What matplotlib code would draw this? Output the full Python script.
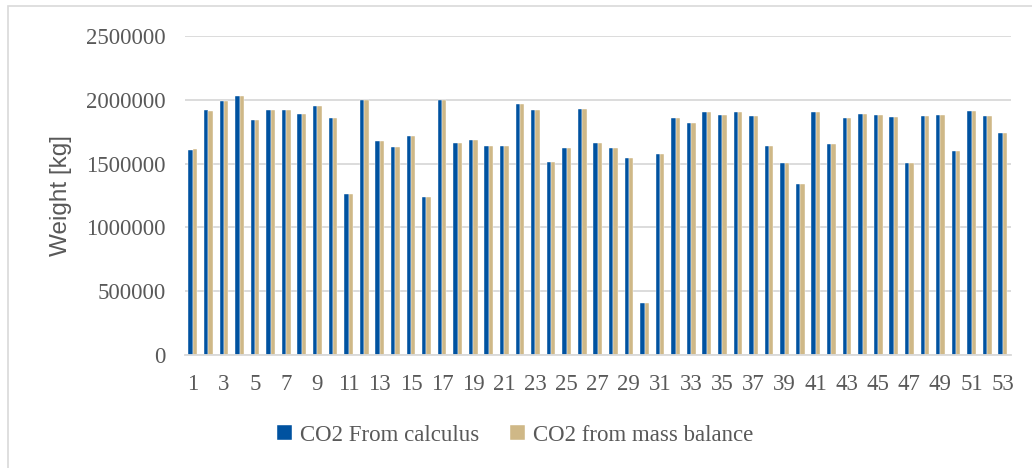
import numpy as np
import matplotlib.pyplot as plt
from matplotlib.patches import Rectangle


cases = np.arange(1, 54)

co2_calculus = [
    1604000, 1922000, 1992000, 2028000, 1844000, 1922000, 1922000, 1885000,
    1948000, 1859000, 1260000, 2000000, 1677000, 1630000, 1713000, 1242000,
    2000000, 1664000, 1682000, 1640000, 1640000, 1969000, 1917000, 1516000,
    1620000, 1930000, 1664000, 1620000, 1547000, 411000, 1578000, 1854000,
    1820000, 1906000, 1883000, 1906000, 1877000, 1635000, 1505000, 1338000,
    1901000, 1651000, 1854000, 1885000, 1883000, 1865000, 1508000, 1870000,
    1883000, 1596000, 1914000, 1877000, 1737000,
]

co2_mass_balance = [
    1612000, 1914000, 1990000, 2028000, 1844000, 1922000, 1922000, 1885000,
    1948000, 1854000, 1260000, 2000000, 1677000, 1630000, 1713000, 1242000,
    2000000, 1664000, 1682000, 1640000, 1640000, 1969000, 1917000, 1516000,
    1620000, 1930000, 1664000, 1620000, 1547000, 411000, 1578000, 1854000,
    1820000, 1906000, 1883000, 1906000, 1877000, 1635000, 1505000, 1338000,
    1901000, 1651000, 1854000, 1885000, 1883000, 1865000, 1508000, 1870000,
    1883000, 1596000, 1914000, 1877000, 1737000,
]

series_names = ["CO2 From calculus", "CO2 from mass balance"]
y_ticks = [0, 500000, 1000000, 1500000, 2000000, 2500000]

BLUE = "#0052a0"
TAN = "#cfb887"
GRID = "#d9d9d9"
TEXT = "#595959"

plt.rcParams['font.family'] = ['Liberation Serif', 'DejaVu Serif']

fig = plt.figure(figsize=(10.32, 4.68), dpi=100)
ax = fig.add_axes([0.1793, 0.2415, 0.9792 - 0.1793, 0.923 - 0.2415])

# outer chart frame
fig.patches.append(Rectangle((8 / 1032, -0.05), 1.1, 1 - 6 / 468 + 0.05,
                             transform=fig.transFigure, fill=False,
                             edgecolor=GRID, linewidth=1.2))

w = 0.28
ax.bar(cases - w / 2, co2_calculus, width=w, color=BLUE, label=series_names[0],
       edgecolor="white", linewidth=0.3, zorder=3)
ax.bar(cases + w / 2, co2_mass_balance, width=w, color=TAN, label=series_names[1],
       edgecolor="white", linewidth=0.3, zorder=3)

ax.set_xlim(0.5, 53.5)
ax.set_ylim(0, 2500000)
ax.set_yticks(y_ticks)
ax.set_yticklabels([str(v) for v in y_ticks])
ax.set_xticks(cases[::2])
ax.set_xticklabels([str(c) for c in cases[::2]])

ax.grid(axis='y', color=GRID, linewidth=1.3, zorder=0)
for side in ['top', 'right', 'left']:
    ax.spines[side].set_visible(False)
ax.spines['bottom'].set_color(GRID)
ax.spines['bottom'].set_linewidth(1.3)
ax.spines['bottom'].set_zorder(4)

ax.tick_params(axis='both', length=0, labelsize=16.5, labelcolor=TEXT)
ax.tick_params(axis='y', pad=14)
ax.tick_params(axis='x', pad=14)

ax.set_ylabel("Weight [kg]", fontsize=17.5, color=TEXT,
              family=['Liberation Sans', 'DejaVu Sans'], labelpad=10)

fig.legend(loc='center', bbox_to_anchor=(0.4995, 0.0705), ncol=2,
           frameon=False, fontsize=16.5, labelcolor=TEXT,
           handlelength=0.65, handleheight=0.65, handletextpad=0.35,
           columnspacing=1.35)

fig.savefig("out.png", dpi=100)
